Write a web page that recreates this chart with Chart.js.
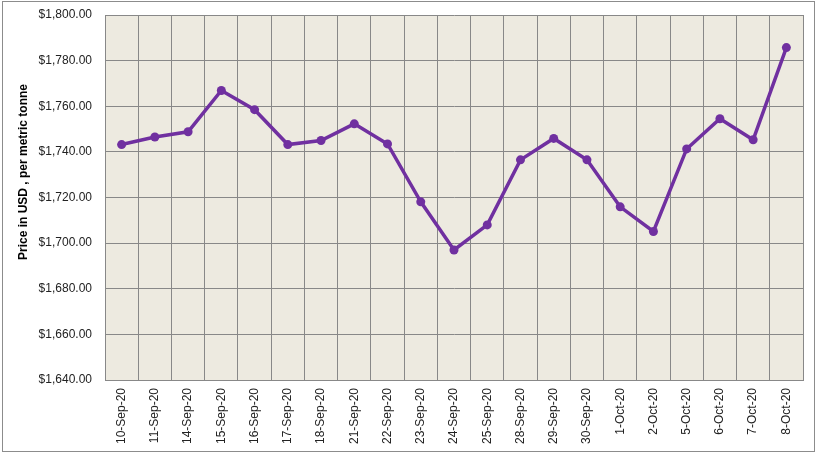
<!DOCTYPE html>
<html lang="en">
<head>
  <meta charset="UTF-8" />
  <title>Price in USD per metric tonne</title>
  <script src="https://cdn.jsdelivr.net/npm/chart.js"></script>
  <style>
    body {
      margin: 0;
      background: #fff;
      overflow: hidden;
    }
    #wrap {
      width: 818px;
      height: 453px;
    }
  </style>
</head>
<body>
  <div id="wrap"><canvas id="chart"></canvas></div>

  <script>
    // dates on the x axis
    const dates = ['10-Sep-20', '11-Sep-20', '14-Sep-20', '15-Sep-20', '16-Sep-20', '17-Sep-20',
      '18-Sep-20', '21-Sep-20', '22-Sep-20', '23-Sep-20', '24-Sep-20', '25-Sep-20', '28-Sep-20',
      '29-Sep-20', '30-Sep-20', '1-Oct-20', '2-Oct-20', '5-Oct-20', '6-Oct-20', '7-Oct-20', '8-Oct-20'];

    // price, USD per metric tonne
    const prices = [1743.2, 1746.5, 1748.8, 1766.9, 1758.5, 1743.2, 1745.0, 1752.3, 1743.5, 1718.1,
      1697.0, 1708.0, 1736.5, 1745.9, 1736.5, 1715.9, 1705.1, 1741.3, 1754.5, 1745.3, 1785.7];

    const yMin = 1640;
    const yMax = 1800;
    const yStep = 20;
    const yTitle = 'Price in USD , per metric tonne';

    const gridColor = '#888888';
    const lineColor = '#7030A0';

    // white page, outer border and beige plot area
    const frame = {
      id: 'frame',
      beforeDraw(chart) {
        const { ctx, chartArea: a } = chart;
        ctx.save();
        ctx.fillStyle = '#ffffff';
        ctx.fillRect(0, 0, chart.width, chart.height);
        ctx.strokeStyle = '#8c8c8c';
        ctx.lineWidth = 1;
        ctx.strokeRect(2.5, 1.5, 812, 450);
        ctx.fillStyle = '#EDEAE0';
        ctx.fillRect(a.left, a.top, a.right - a.left, a.bottom - a.top);
        ctx.restore();
      },
      afterDraw(chart) {
        const ctx = chart.ctx;
        ctx.save();
        ctx.translate(24, 172);
        ctx.rotate(-Math.PI / 2);
        ctx.font = 'bold 12px "Liberation Sans", Arial, sans-serif';
        ctx.fillStyle = '#000';
        ctx.textAlign = 'center';
        ctx.textBaseline = 'middle';
        ctx.fillText(yTitle, 0, 0);
        ctx.restore();
      }
    };

    Chart.defaults.font.family = '"Liberation Sans", Arial, sans-serif';
    Chart.defaults.font.size = 12;
    Chart.defaults.color = '#222';

    new Chart(document.getElementById('chart'), {
      type: 'line',
      data: {
        labels: dates,
        datasets: [{
          label: 'Price',
          data: prices,
          borderColor: lineColor,
          backgroundColor: lineColor,
          borderWidth: 3.5,
          pointRadius: 4.5,
          pointBorderWidth: 0,
          pointBackgroundColor: lineColor,
          tension: 0,
          fill: false
        }]
      },
      options: {
        responsive: true,
        maintainAspectRatio: false,
        animation: false,
        layout: {
          padding: { top: 15, right: 15, left: 0, bottom: 0 }
        },
        scales: {
          x: {
            offset: true,
            grid: {
              offset: true,
              color: gridColor,
              drawTicks: false
            },
            border: { color: gridColor },
            ticks: {
              minRotation: 90,
              maxRotation: 90,
              autoSkip: false,
              padding: 8
            },
            afterFit(scale) { scale.height = 73; }
          },
          y: {
            min: yMin,
            max: yMax,
            grid: {
              color: gridColor,
              drawTicks: false
            },
            border: { color: gridColor },
            ticks: {
              stepSize: yStep,
              padding: 13,
              callback: v => '$' + v.toLocaleString('en-US', { minimumFractionDigits: 2, maximumFractionDigits: 2 })
            },
            afterFit(scale) {
              scale.width = 105;
              scale.paddingTop = 0;
              scale.paddingBottom = 0;
            }
          }
        },
        plugins: {
          legend: { display: false },
          tooltip: { enabled: false }
        }
      },
      plugins: [frame]
    });
  </script>
</body>
</html>
